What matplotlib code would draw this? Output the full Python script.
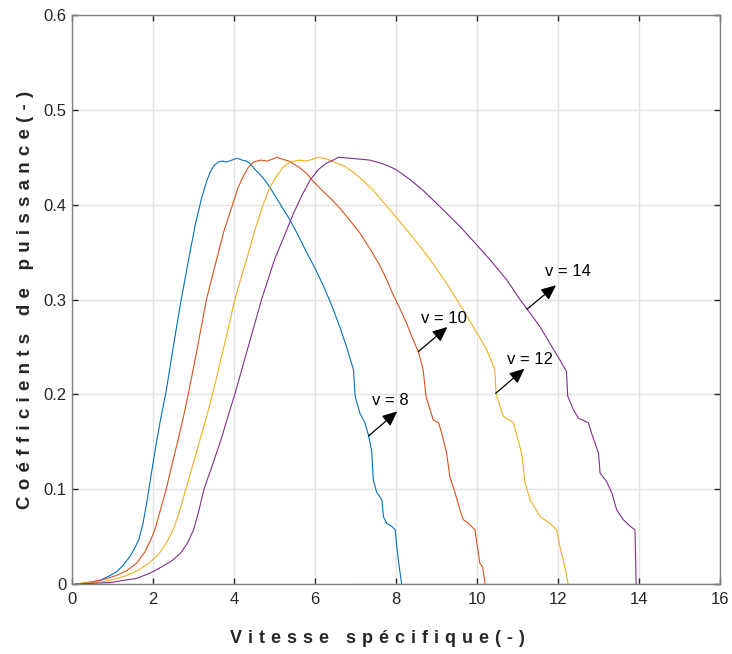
import numpy as np
import matplotlib
matplotlib.use("Agg")
import matplotlib.pyplot as plt

plt.rcParams['font.family'] = ['Liberation Sans', 'DejaVu Sans']

# Cp vs tip speed ratio for 4 wind speeds
x_v8 = [0.1, 0.4, 0.7, 0.9, 1.1, 1.25, 1.43, 1.55, 1.65, 1.75, 1.85, 1.95, 2.06, 2.18, 2.32, 2.5, 2.68, 2.87,
        3.05, 3.2, 3.32, 3.41, 3.5, 3.61, 3.72, 3.82, 3.95, 4.07, 4.2, 4.3, 4.4, 4.52, 4.64, 4.76, 4.89,
        5.02, 5.15, 5.38, 5.58, 5.79, 6.0, 6.2, 6.42, 6.62, 6.78, 6.95, 6.99, 7.11, 7.23, 7.32, 7.40, 7.44,
        7.52, 7.65, 7.69, 7.77, 7.89, 7.98, 8.02, 8.08, 8.14]
y_v8 = [0.0, 0.001, 0.004, 0.008, 0.013, 0.019, 0.029, 0.038, 0.047, 0.063, 0.087, 0.114, 0.143, 0.172, 0.202, 0.25, 0.296, 0.34,
        0.38, 0.407, 0.424, 0.434, 0.441, 0.445, 0.446, 0.445, 0.447, 0.449, 0.447, 0.446, 0.443, 0.437, 0.432, 0.426, 0.418,
        0.409, 0.40, 0.384, 0.368, 0.35, 0.333, 0.315, 0.293, 0.27, 0.25, 0.226, 0.198, 0.18, 0.17, 0.157, 0.14, 0.11,
        0.097, 0.089, 0.071, 0.064, 0.061, 0.057, 0.039, 0.018, 0.0]

x_v10 = [0.1, 0.53, 0.8, 1.1, 1.35, 1.6, 1.8, 1.93, 2.05, 2.17, 2.26, 2.35, 2.48, 2.62, 2.75, 2.87, 3.1, 3.32, 3.45,
         3.57, 3.75, 3.98, 4.1, 4.23, 4.35, 4.48, 4.65, 4.81, 4.95, 5.05, 5.2, 5.35, 5.47, 5.62, 5.79, 5.95,
         6.2, 6.4, 6.62, 6.85, 7.11, 7.35, 7.6, 7.78, 7.93, 8.1, 8.26, 8.4, 8.55, 8.63, 8.67, 8.74, 8.84, 8.92,
         9.05, 9.13, 9.25, 9.33, 9.46, 9.58, 9.66, 9.79, 9.95, 10.01, 10.07, 10.14, 10.20]
y_v10 = [0.0, 0.0025, 0.005, 0.009, 0.014, 0.022, 0.034, 0.045, 0.058, 0.076, 0.09, 0.104, 0.128, 0.152, 0.176, 0.20, 0.25, 0.30, 0.322,
         0.342, 0.372, 0.402, 0.418, 0.43, 0.439, 0.445, 0.447, 0.446, 0.448, 0.45, 0.448, 0.446, 0.443, 0.439, 0.433, 0.425,
         0.414, 0.406, 0.396, 0.384, 0.37, 0.354, 0.336, 0.32, 0.305, 0.29, 0.275, 0.26, 0.245, 0.233, 0.226, 0.198, 0.184, 0.173,
         0.17, 0.159, 0.138, 0.113, 0.096, 0.078, 0.068, 0.064, 0.057, 0.039, 0.022, 0.018, 0.0]

x_v12 = [0.1, 0.77, 1.05, 1.35, 1.65, 1.93, 2.15, 2.34, 2.5, 2.62, 2.72, 2.81, 2.98, 3.16, 3.32, 3.47, 3.75, 4.02,
         4.17, 4.31, 4.52, 4.72, 4.88, 5.05, 5.2, 5.38, 5.6, 5.79, 5.95, 6.08, 6.3, 6.53, 6.75, 6.95, 7.2,
         7.44, 7.7, 8.0, 8.33, 8.67, 8.96, 9.25, 9.5, 9.7, 9.91, 10.08, 10.24, 10.44, 10.47, 10.57, 10.65,
         10.90, 11.10, 11.19, 11.31, 11.56, 11.80, 11.97, 12.05, 12.17, 12.25]
y_v12 = [0.0, 0.0025, 0.005, 0.009, 0.015, 0.023, 0.032, 0.044, 0.058, 0.072, 0.086, 0.10, 0.125, 0.152, 0.176, 0.20, 0.25, 0.30,
         0.322, 0.342, 0.374, 0.40, 0.418, 0.43, 0.439, 0.445, 0.447, 0.446, 0.448, 0.45, 0.448, 0.444, 0.44, 0.434, 0.425,
         0.415, 0.402, 0.387, 0.37, 0.352, 0.335, 0.317, 0.30, 0.286, 0.271, 0.259, 0.247, 0.226, 0.201, 0.187, 0.177,
         0.17, 0.138, 0.106, 0.089, 0.071, 0.064, 0.057, 0.039, 0.018, 0.0]

x_v14 = [0.1, 0.94, 1.3, 1.6, 1.9, 2.17, 2.45, 2.67, 2.85, 3.0, 3.13, 3.26, 3.48, 3.7, 3.86, 4.02, 4.25, 4.47,
         4.68, 5.0, 5.25, 5.47, 5.68, 5.88, 6.08, 6.29, 6.45, 6.58, 6.85, 7.11, 7.35, 7.6, 7.8, 8.0, 8.33,
         8.67, 8.96, 9.25, 9.58, 9.9, 10.3, 10.73, 11.06, 11.27, 11.56, 11.88, 12.05, 12.21, 12.24, 12.38,
         12.50, 12.75, 12.83, 13.00, 13.04, 13.20, 13.33, 13.45, 13.61, 13.78, 13.90, 13.93]
y_v14 = [0.0, 0.0015, 0.004, 0.006, 0.011, 0.017, 0.024, 0.032, 0.043, 0.057, 0.077, 0.10, 0.127, 0.155, 0.178, 0.20, 0.235, 0.268,
         0.30, 0.342, 0.368, 0.391, 0.41, 0.426, 0.437, 0.444, 0.447, 0.45, 0.449, 0.448, 0.447, 0.444, 0.441, 0.437, 0.427,
         0.415, 0.403, 0.391, 0.377, 0.362, 0.343, 0.321, 0.30, 0.288, 0.271, 0.248, 0.236, 0.224, 0.198, 0.184,
         0.175, 0.17, 0.159, 0.138, 0.117, 0.108, 0.096, 0.078, 0.068, 0.061, 0.057, 0.0]

# flat zero segment of the last curve
x_zero = [7.0, 16.0]
y_zero = [0.0, 0.0]

curves = [(x_v8, y_v8, '#0072BD'), (x_v10, y_v10, '#D95319'),
          (x_v12, y_v12, '#EDB120'), (x_v14, y_v14, '#7E2F8E')]

# annotations: label, text pos, arrow tail (on curve), arrow head
labels = ['v = 8', 'v = 10', 'v = 12', 'v = 14']
text_pos = [(7.41, 0.193), (8.62, 0.280), (10.73, 0.237), (11.68, 0.329)]
arrow_tail = [(7.32, 0.156), (8.55, 0.245), (10.46, 0.201), (11.24, 0.290)]
arrow_head = [(8.03, 0.182), (9.27, 0.271), (11.17, 0.227), (11.95, 0.315)]

fig = plt.figure(figsize=(7.32, 6.54), dpi=100)
ax = fig.add_axes([72/732, 70/654, 648/732, 569/654])

for xs, ys, c in curves:
    ax.plot(xs, ys, color=c, lw=0.8)
ax.plot(x_zero, y_zero, color='#7E2F8E', lw=0.8)

for lab, tp, tail, head in zip(labels, text_pos, arrow_tail, arrow_head):
    ax.annotate('', xy=head, xytext=tail,
                arrowprops=dict(arrowstyle='-|>,head_length=0.9,head_width=0.4',
                                color='k', lw=0.9, shrinkA=0, shrinkB=0))
    ax.text(tp[0], tp[1], lab, fontsize=12, ha='left', va='center')

ax.set_xlim(0, 16)
ax.set_ylim(0, 0.6)
ax.set_xticks(np.arange(0, 17, 2))
ax.set_yticks(np.arange(0, 0.61, 0.1))
ax.set_yticklabels(['0', '0.1', '0.2', '0.3', '0.4', '0.5', '0.6'])
ax.grid(True, color='#e3e3e3', lw=1)
ax.set_axisbelow(True)
for s in ax.spines.values():
    s.set_color('#808080')
    s.set_linewidth(1.0)
ax.tick_params(direction='in', length=4.5, width=1.0, color='#262626',
               top=True, right=True, labelsize=12, labelcolor='#262626')
ax.tick_params(axis='x', pad=6)
ax.tick_params(axis='y', pad=4)

# wide letter spacing like the original
sp = '\u2004'
ax.set_xlabel(sp.join('Vitesse spécifique(-)'), fontsize=13, fontweight='bold', color='#262626')
ax.set_ylabel(sp.join('Coéfficients de puissance(-)'), fontsize=13.5, fontweight='bold', color='#262626')
ax.xaxis.set_label_coords(0.472, -0.081)
ax.yaxis.set_label_coords(-0.058, 0.5)

fig.savefig('out.png', dpi=100)
